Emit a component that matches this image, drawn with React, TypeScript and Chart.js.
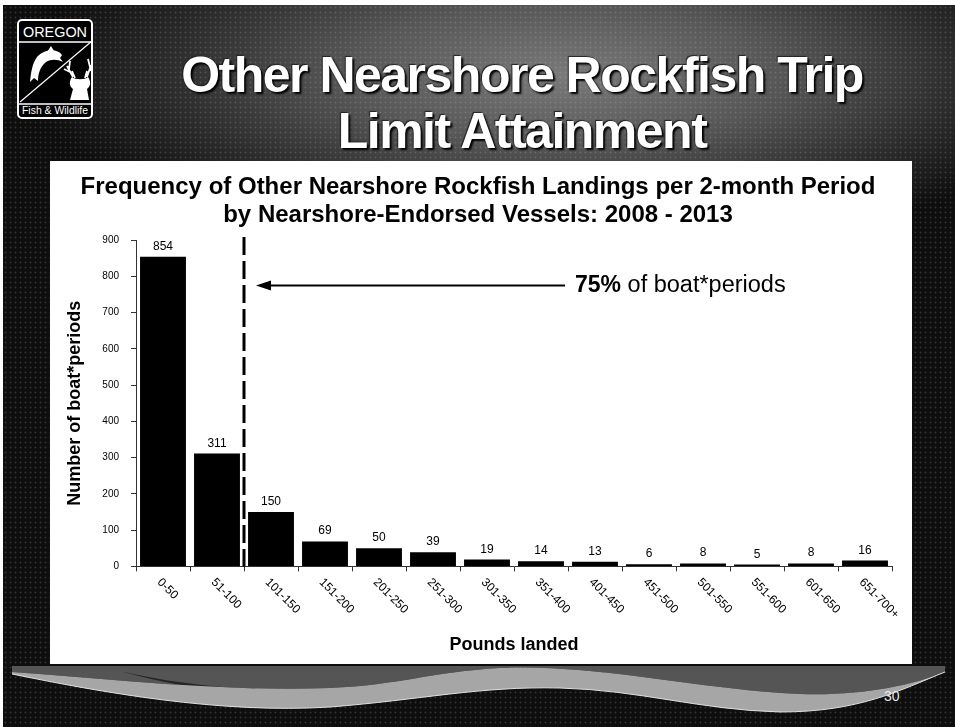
import React, { useEffect, useRef } from 'react';
import { Chart, registerables } from 'chart.js';

Chart.register(...registerables);

const FONT = '"Liberation Sans", Arial, Helvetica, sans-serif';

// Pound ranges per landing and how many boat*periods fell in each
const poundsLanded = [
  '0-50', '51-100', '101-150', '151-200', '201-250', '251-300', '301-350',
  '351-400', '401-450', '451-500', '501-550', '551-600', '601-650', '651-700+',
];
const boatPeriods = [854, 311, 150, 69, 50, 39, 19, 14, 13, 6, 8, 5, 8, 16];

const chartTitleLines = [
  'Frequency of Other Nearshore Rockfish Landings per 2-month Period',
  'by Nearshore-Endorsed Vessels: 2008 - 2013',
];
const slideTitleLines = ['Other Nearshore Rockfish Trip', 'Limit Attainment'];
const yAxisTitle = 'Number of boat*periods';
const xAxisTitle = 'Pounds landed';
const yAxisMax = 900;
const yAxisStep = 100;

// The 75% cut-off falls between "51-100" and "101-150"
const cutoffAfterIndex = 1;
const calloutLevel = 775;
const calloutBold = '75%';
const calloutRest = ' of boat*periods';
const slideNumber = '30';

const overlayPlugin = {
  id: 'overlay',
  afterDatasetsDraw(chart: any) {
    const { ctx, chartArea, scales } = chart;
    const xs = scales.x;
    const ys = scales.y;
    ctx.save();
    ctx.fillStyle = '#000';
    ctx.strokeStyle = '#000';

    // value above each bar
    ctx.font = `12px ${FONT}`;
    ctx.textAlign = 'center';
    ctx.textBaseline = 'alphabetic';
    boatPeriods.forEach((v, i) => {
      ctx.fillText(String(v), xs.getPixelForValue(i), ys.getPixelForValue(v) - 7);
    });

    // slanted category labels
    ctx.font = `12px ${FONT}`;
    ctx.textAlign = 'left';
    ctx.textBaseline = 'middle';
    poundsLanded.forEach((lab, i) => {
      ctx.save();
      ctx.translate(xs.getPixelForValue(i) - 4, chartArea.bottom + 14);
      ctx.rotate(Math.PI / 4);
      ctx.fillText(lab, 0, 0);
      ctx.restore();
    });

    // dashed cut-off line
    const cx = (xs.getPixelForValue(cutoffAfterIndex) + xs.getPixelForValue(cutoffAfterIndex + 1)) / 2;
    ctx.lineWidth = 3;
    ctx.setLineDash([18, 6]);
    ctx.beginPath();
    ctx.moveTo(cx, chartArea.top - 3);
    ctx.lineTo(cx, chartArea.bottom);
    ctx.stroke();
    ctx.setLineDash([]);

    // arrow pointing at the cut-off
    const ay = Math.round(ys.getPixelForValue(calloutLevel)) + 0.5;
    const tipX = cx + 12;
    const tailX = cx + 321;
    ctx.lineWidth = 2;
    ctx.beginPath();
    ctx.moveTo(tipX + 10, ay);
    ctx.lineTo(tailX, ay);
    ctx.stroke();
    ctx.beginPath();
    ctx.moveTo(tipX, ay);
    ctx.lineTo(tipX + 15, ay - 5);
    ctx.lineTo(tipX + 15, ay + 5);
    ctx.closePath();
    ctx.fill();

    // callout text
    ctx.textAlign = 'left';
    ctx.textBaseline = 'middle';
    const tx = tailX + 10;
    ctx.font = `bold 23px ${FONT}`;
    ctx.fillText(calloutBold, tx, ay);
    const w = ctx.measureText(calloutBold).width;
    ctx.font = `23.5px ${FONT}`;
    ctx.fillText(calloutRest, tx + w, ay);
    ctx.restore();
  },
};

function FrequencyChart() {
  const ref = useRef<HTMLCanvasElement>(null);
  useEffect(() => {
    if (!ref.current) return;
    const chart = new Chart(ref.current, {
      type: 'bar',
      data: {
        labels: poundsLanded,
        datasets: [
          {
            data: boatPeriods,
            backgroundColor: '#000',
            borderWidth: 0,
            barPercentage: 0.85,
            categoryPercentage: 1,
          },
        ],
      },
      options: {
        animation: false,
        responsive: false,
        devicePixelRatio: 1,
        layout: { padding: { left: 14, right: 20, top: 0, bottom: 0 } },
        plugins: {
          legend: { display: false },
          tooltip: { enabled: false },
          title: {
            display: true,
            text: chartTitleLines,
            color: '#000',
            font: { family: FONT, size: 24, weight: 'bold', lineHeight: 1.167 },
            padding: { top: 12, bottom: 11 },
          },
        },
        scales: {
          x: {
            grid: { drawOnChartArea: false, tickLength: 5, color: '#333', offset: true },
            border: { display: true, color: '#333', width: 1 },
            ticks: { display: false },
            title: {
              display: true,
              text: xAxisTitle,
              color: '#000',
              font: { family: FONT, size: 18, weight: 'bold' },
              padding: { top: 63, bottom: 8 },
            },
          },
          y: {
            min: 0,
            max: yAxisMax,
            afterFit: (s: any) => {
              s.width = 72;
            },
            grid: { drawOnChartArea: false, tickLength: 5, color: '#333' },
            border: { display: true, color: '#333', width: 1 },
            ticks: {
              stepSize: yAxisStep,
              color: '#000',
              padding: 12,
              font: { family: FONT, size: 10 },
            },
            title: {
              display: true,
              text: yAxisTitle,
              color: '#000',
              font: { family: FONT, size: 18, weight: 'bold' },
              padding: { top: 0, bottom: 0 },
            },
          },
        },
      },
      plugins: [overlayPlugin],
    } as any);
    return () => chart.destroy();
  }, []);
  return <canvas ref={ref} width={862} height={503} style={{ display: 'block', width: 862, height: 503 }} />;
}

function Logo() {
  return (
    <svg width={76} height={100} viewBox="0 0 76 100" style={{ position: 'absolute', left: 17, top: 19 }}>
      <rect x={1} y={1} width={74} height={98} rx={4} fill="#000" stroke="#fff" strokeWidth={2} />
      <text x={38} y={18} textAnchor="middle" fill="#fff" fontSize={14} fontFamily={FONT} textLength={64} lengthAdjust="spacingAndGlyphs">
        OREGON
      </text>
      <line x1={1} y1={23} x2={75} y2={23} stroke="#fff" strokeWidth={1.5} />
      <line x1={1} y1={85} x2={75} y2={85} stroke="#fff" strokeWidth={1.5} />
      <line x1={3} y1={83} x2={75} y2={22} stroke="#fff" strokeWidth={1.2} />
      {/* leaping fish */}
      <path
        d="M45 36 C40 29 27 30 20 38 C15 45 14 54 13 63 L17 59 L21 62 C21 55 23 48 29 43 C34 40 40 40 46 43 L43 39 Z"
        fill="#fff"
      />
      <path d="M30 33 L34 27 L37 32 Z M24 42 L19 46 L24 47 Z" fill="#fff" />
      {/* deer head */}
      <path
        d="M55 58 C52 62 52 67 56 70 L53 81 L72 81 L70 70 C74 67 74 62 71 58 C68 61 58 61 55 58 Z"
        fill="#fff"
      />
      <path
        d="M56 58 L50 47 M53 53 L47 50 M52 50 L53 42 M70 58 L74 46 M72 52 L76 49 M73 48 L71 40 M58 59 L55 52 M68 59 L70 52"
        stroke="#fff"
        strokeWidth={1.8}
        fill="none"
      />
      <text x={38} y={95} textAnchor="middle" fill="#fff" fontSize={10.5} fontFamily={FONT} textLength={66} lengthAdjust="spacingAndGlyphs">
        Fish &amp; Wildlife
      </text>
    </svg>
  );
}

function FooterWaves() {
  return (
    <svg width={955} height={727} style={{ position: 'absolute', left: 0, top: 0, pointerEvents: 'none' }}>
      <path
        d="M12 666 L945 666 L945 672 C910 686 860 696 800 694 C700 690 600 664 500 668 C430 672 400 685 330 688 C230 692 120 680 12 672 Z"
        fill="#555"
      />
      <path
        d="M120 671 C200 690 300 696 410 682 C300 704 210 696 120 671 Z"
        fill="#262626"
      />
      <path
        d="M12 672 C120 680 230 692 330 688 C400 685 430 672 500 668 C600 664 700 690 800 694 C860 696 910 686 945 672
           C900 690 860 712 780 712 C700 710 640 690 560 688 C480 686 420 700 330 707 C220 714 100 692 12 674 Z"
        fill="#a6a6a6"
      />
      <path
        d="M945 672 C900 690 860 712 780 712 C700 710 640 690 560 688 C480 686 420 700 330 707 C220 714 100 692 12 674"
        fill="none"
        stroke="#e0e0e0"
        strokeWidth={1}
      />
    </svg>
  );
}

export default function App() {
  useEffect(() => {
    document.body.style.margin = '0';
  }, []);
  return (
    <div
      style={{
        position: 'fixed',
        left: 0,
        top: 0,
        width: 955,
        height: 727,
        overflow: 'hidden',
        background: '#fff',
        fontFamily: FONT,
      }}
    >
      <div
        style={{
          position: 'absolute',
          left: 3,
          top: 5,
          width: 952,
          height: 722,
          backgroundColor: '#0e0e0e',
          backgroundImage:
            'radial-gradient(rgba(200,200,200,0.2) 0.7px, transparent 1.2px), radial-gradient(ellipse 540px 175px at 560px 70px, #7a7a7a 0%, #575757 40%, #2a2a2a 75%, rgba(14,14,14,0) 100%)',
          backgroundSize: '5px 5px, 100% 100%',
        }}
      />
      <Logo />
      {slideTitleLines.map((t, i) => (
        <div
          key={t}
          style={{
            position: 'absolute',
            left: 0,
            width: 1044,
            top: 47 + i * 56,
            textAlign: 'center',
            color: '#fff',
            fontSize: 50,
            lineHeight: '56px',
            fontWeight: 'bold',
            letterSpacing: -1.5,
            whiteSpace: 'nowrap',
            textShadow: '2px 2px 2px #000, -1px -1px 1px #222',
          }}
        >
          {t}
        </div>
      ))}
      <FooterWaves />
      <div style={{ position: 'absolute', left: 50, top: 161, width: 862, height: 503, background: '#fff' }}>
        <FrequencyChart />
      </div>
      <div style={{ position: 'absolute', left: 884, top: 688, color: '#e8e8e8', fontSize: 14 }}>{slideNumber}</div>
    </div>
  );
}
